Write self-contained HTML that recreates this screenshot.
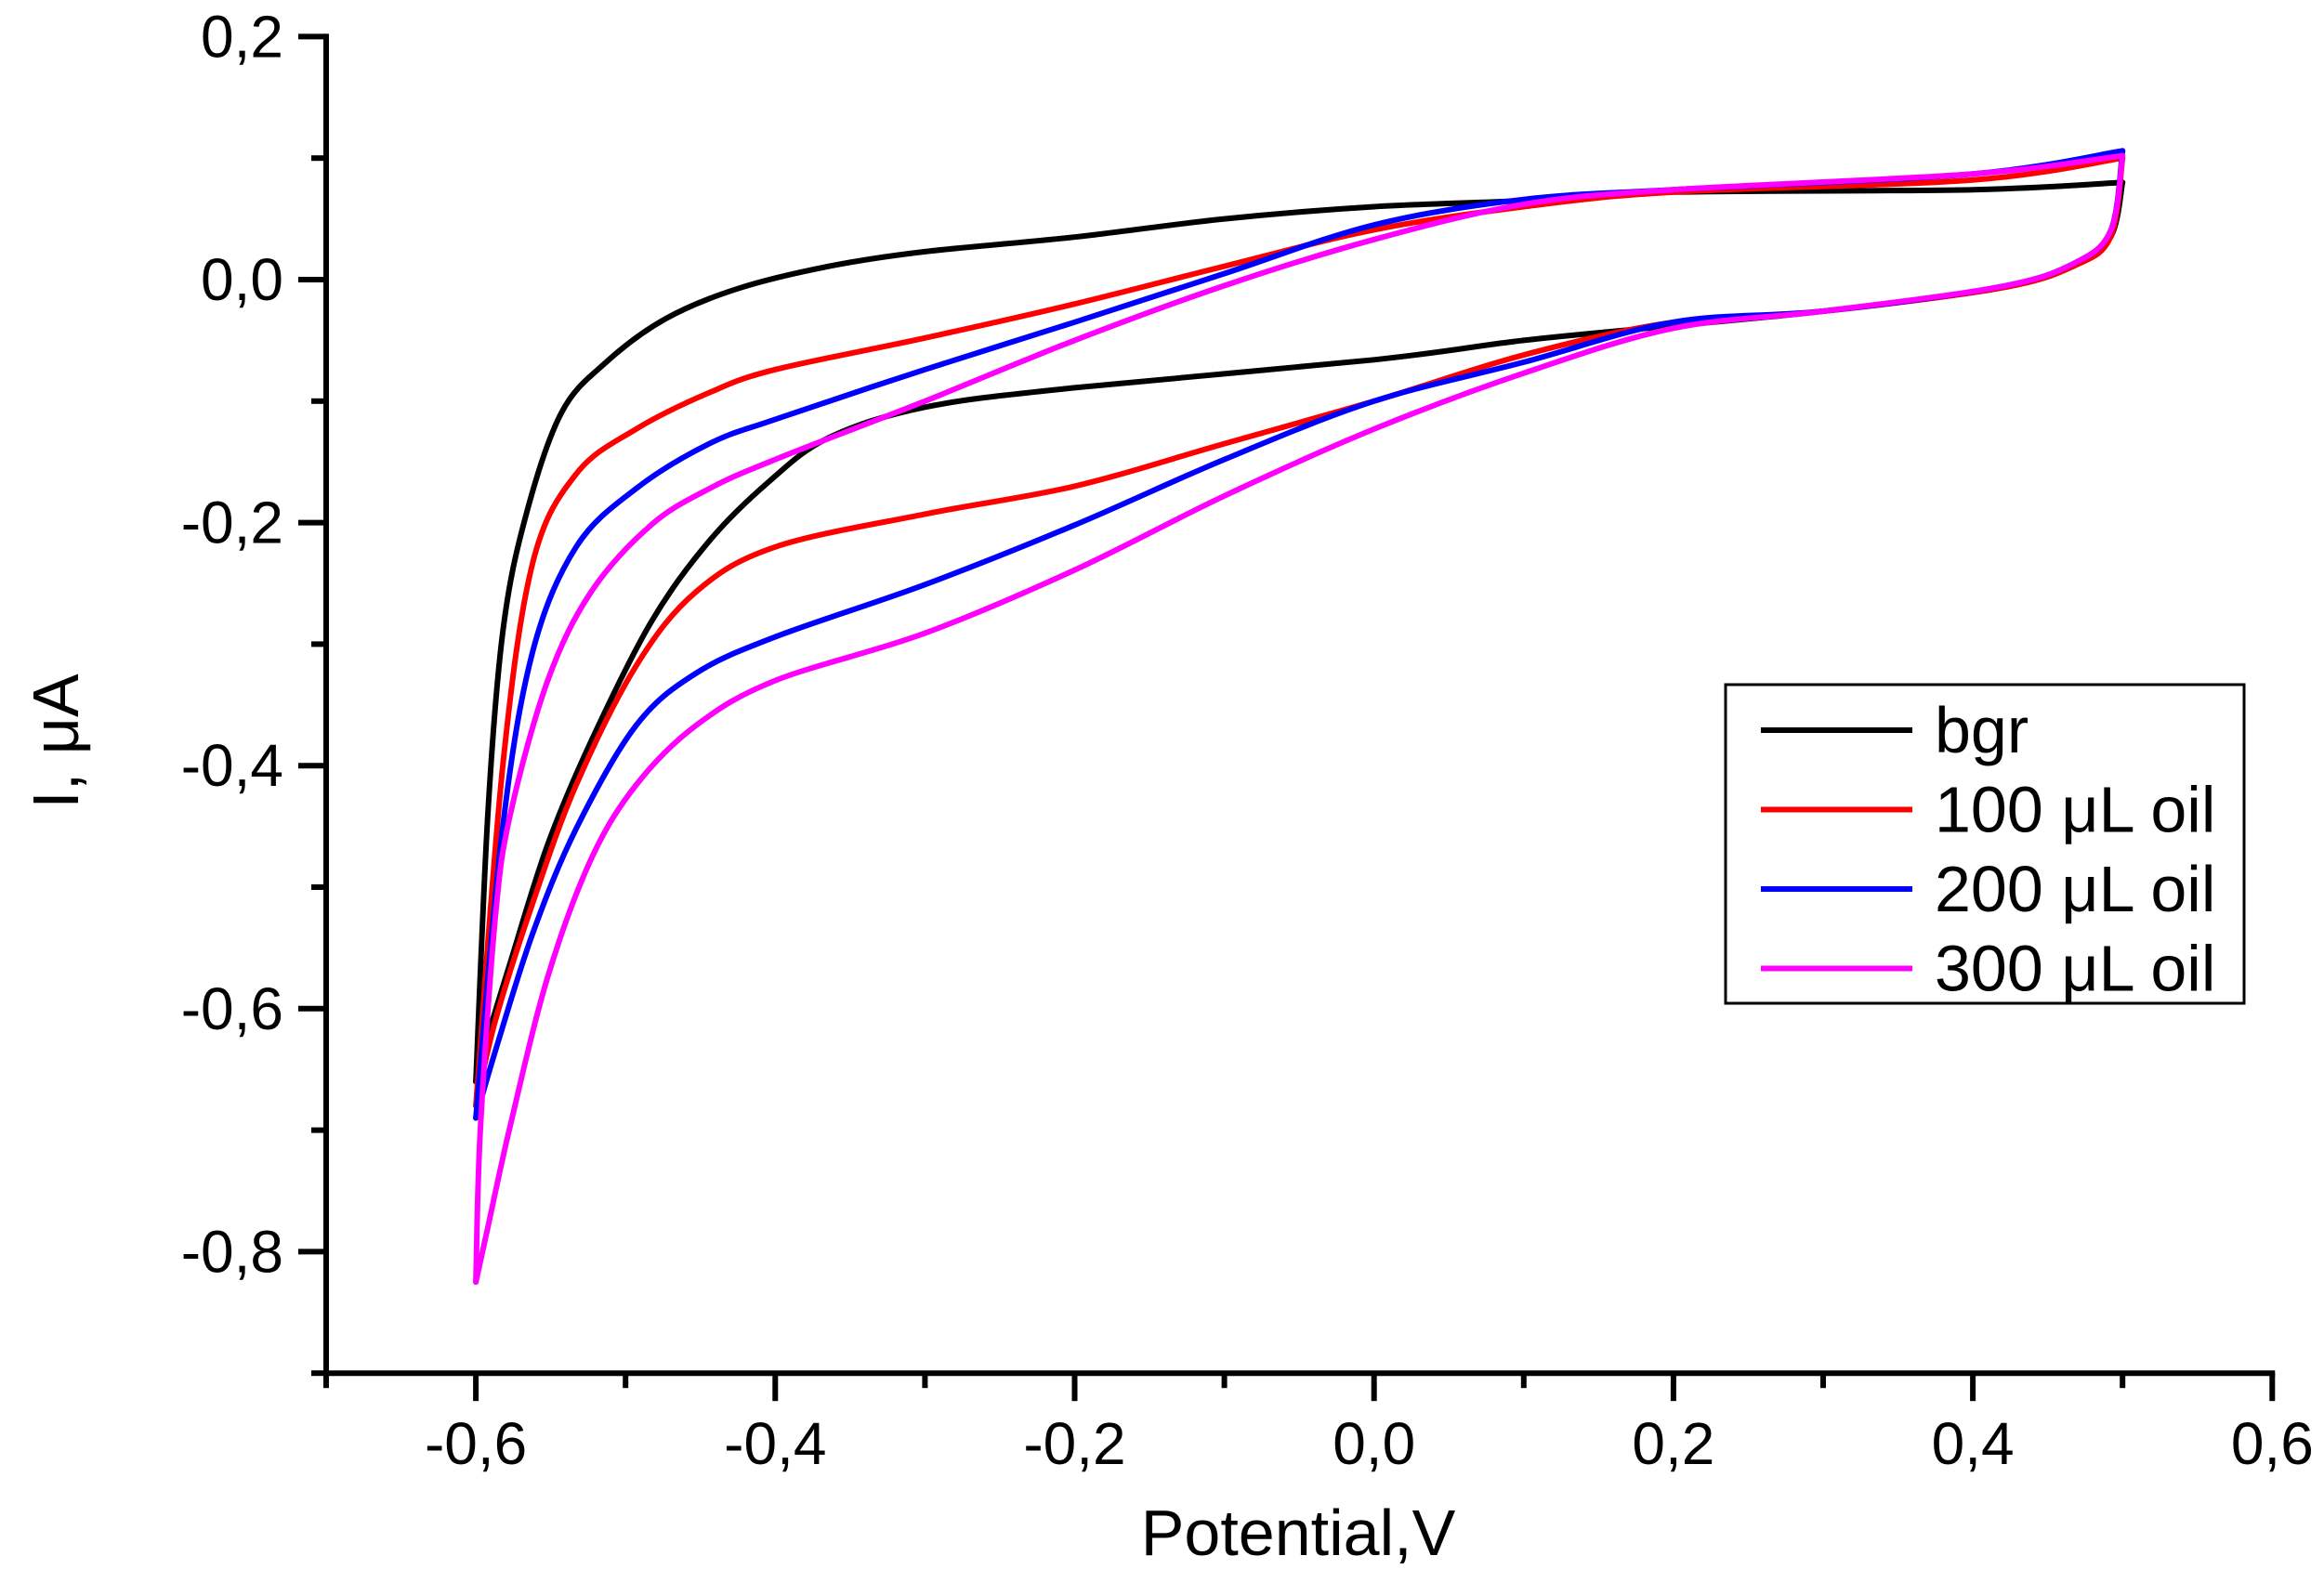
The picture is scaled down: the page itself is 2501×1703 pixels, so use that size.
<!DOCTYPE html>
<html><head><meta charset="utf-8"><style>
html,body{margin:0;padding:0;background:#fff}
svg{display:block}
text{font-family:"Liberation Sans",Arial,sans-serif;fill:#000}
</style></head><body>
<svg id="chart" width="2501" height="1703" viewBox="0 0 2501 1703" xmlns="http://www.w3.org/2000/svg">
<g id="axes"></g>
<g id="series"></g>
<text x="1397" y="1674" font-size="70" text-anchor="middle">Potential,V</text>
<text transform="translate(84,798) rotate(-90)" font-size="70" text-anchor="middle">I, μA</text>
<g>
<rect x="1857" y="737" width="558" height="343" fill="#fff" stroke="#000" stroke-width="3"/>
<g id="legend-entries"></g>
</g>
</svg>
<script>
const xTicks=[-0.6,-0.4,-0.2,0.0,0.2,0.4,0.6];
const xTickLabels=["-0,6","-0,4","-0,2","0,0","0,2","0,4","0,6"];
const yTicks=[0.2,0.0,-0.2,-0.4,-0.6,-0.8];
const yTickLabels=["0,2","0,0","-0,2","-0,4","-0,6","-0,8"];
const seriesNames=["bgr","100 μL oil","200 μL oil","300 μL oil"];
const seriesColors=["#000000","#ff0000","#0000ff","#ff00ff"];
const bgrUpX=[-0.6,-0.592,-0.582,-0.567,-0.543,-0.513,-0.473,-0.424,-0.364,-0.3,-0.2,-0.1,0,0.1,0.2,0.4,0.5];
const bgrUpY=[-0.66,-0.44,-0.29,-0.196,-0.11,-0.068,-0.032,-0.007,0.011,0.023,0.035,0.05,0.06,0.065,0.072,0.074,0.08];
const bgrDnX=[0.5,0.492,0.467,0.418,0.3,0.2,0.1,0,-0.2,-0.3,-0.364,-0.404,-0.444,-0.483,-0.523,-0.552,-0.577,-0.595,-0.6];
const bgrDnY=[0.08,0.035,0.011,-0.007,-0.026,-0.038,-0.05,-0.066,-0.089,-0.105,-0.13,-0.166,-0.215,-0.282,-0.38,-0.465,-0.562,-0.635,-0.66];
const s100UpX=[-0.6,-0.582,-0.562,-0.533,-0.493,-0.444,-0.4,-0.3,-0.2,-0.1,0,0.1,0.2,0.4,0.5];
const s100UpY=[-0.68,-0.40,-0.233,-0.16,-0.123,-0.093,-0.074,-0.048,-0.02,0.011,0.041,0.06,0.072,0.082,0.1];
const s100DnX=[0.5,0.492,0.467,0.418,0.3,0.2,0.1,0,-0.1,-0.2,-0.3,-0.4,-0.453,-0.493,-0.533,-0.562,-0.587,-0.6];
const s100DnY=[0.1,0.035,0.011,-0.007,-0.026,-0.035,-0.062,-0.1,-0.135,-0.17,-0.193,-0.22,-0.257,-0.318,-0.416,-0.513,-0.61,-0.68];
const s200UpX=[-0.6,-0.582,-0.562,-0.533,-0.493,-0.444,-0.4,-0.3,-0.2,-0.1,0,0.1,0.2,0.4,0.5];
const s200UpY=[-0.69,-0.45,-0.306,-0.22,-0.172,-0.135,-0.115,-0.074,-0.035,0.005,0.045,0.066,0.074,0.087,0.106];
const s200DnX=[0.5,0.492,0.467,0.418,0.3,0.2,0.1,0,-0.1,-0.2,-0.3,-0.4,-0.453,-0.493,-0.533,-0.562,-0.587,-0.6];
const s200DnY=[0.106,0.04,0.013,-0.006,-0.026,-0.035,-0.068,-0.1,-0.148,-0.202,-0.251,-0.294,-0.324,-0.367,-0.452,-0.538,-0.635,-0.69];
const s300UpX=[-0.6,-0.597,-0.587,-0.577,-0.552,-0.523,-0.483,-0.444,-0.4,-0.3,-0.2,-0.1,0,0.1,0.2,0.4,0.5];
const s300UpY=[-0.825,-0.70,-0.525,-0.44,-0.33,-0.257,-0.202,-0.172,-0.148,-0.1,-0.05,-0.005,0.033,0.062,0.074,0.087,0.102];
const s300DnX=[0.5,0.492,0.467,0.418,0.3,0.2,0.1,0,-0.1,-0.2,-0.3,-0.4,-0.453,-0.493,-0.523,-0.552,-0.577,-0.592,-0.6];
const s300DnY=[0.102,0.04,0.013,-0.006,-0.026,-0.04,-0.077,-0.123,-0.178,-0.239,-0.291,-0.33,-0.367,-0.416,-0.477,-0.574,-0.696,-0.78,-0.825];

const NS="http://www.w3.org/2000/svg";
function xs(v){return 351+(v+0.7)*1611;}
function ys(v){return 301-v*1308;}
function mk(tag,attrs,parent){const e=document.createElementNS(NS,tag);for(const k in attrs)e.setAttribute(k,attrs[k]);parent.appendChild(e);return e;}
const axes=document.getElementById('axes');
const xMin=-0.7,xMax=0.6,yMin=-0.9,yMax=0.2;
let ax=mk('line',{x1:xs(xMin)-3,y1:ys(yMin),x2:xs(xMax)+3,y2:ys(yMin),stroke:'#000','stroke-width':6},axes);


let ay=mk('line',{x1:xs(xMin),y1:ys(yMin)+3,x2:xs(xMin),y2:ys(yMax)-3,stroke:'#000','stroke-width':6},axes);


for(let i=0;i<=13;i++){const v=xMin+i*0.1;const major=(i%2===1);
 const t=mk('line',{x1:xs(v),y1:ys(yMin),x2:xs(v),y2:ys(yMin)+(major?30:16),stroke:'#000','stroke-width':6},axes);
 
 }
xTicks.forEach((v,i)=>{const t=mk('text',{x:xs(v),y:1576,'font-size':64,'text-anchor':'middle'},axes);t.textContent=xTickLabels[i];
 
 });
for(let i=0;i<=11;i++){const v=yMax-i*0.1;const major=(i%2===0&&i<=10);
 const t=mk('line',{x1:xs(xMin),y1:ys(v),x2:xs(xMin)-(major?30:16),y2:ys(v),stroke:'#000','stroke-width':6},axes);
 
 }
yTicks.forEach((v,i)=>{const t=mk('text',{x:xs(xMin)-46,y:ys(v)+22,'font-size':64,'text-anchor':'end'},axes);t.textContent=yTickLabels[i];
 
 });

function smoothPath(pts){let d='M'+pts[0][0].toFixed(1)+','+pts[0][1].toFixed(1);
 for(let i=0;i<pts.length-1;i++){const p0=pts[Math.max(0,i-1)],p1=pts[i],p2=pts[i+1],p3=pts[Math.min(pts.length-1,i+2)];
  const c1=[p1[0]+(p2[0]-p0[0])/6,p1[1]+(p2[1]-p0[1])/6],c2=[p2[0]-(p3[0]-p1[0])/6,p2[1]-(p3[1]-p1[1])/6];
  d+=' C'+c1[0].toFixed(1)+','+c1[1].toFixed(1)+' '+c2[0].toFixed(1)+','+c2[1].toFixed(1)+' '+p2[0].toFixed(1)+','+p2[1].toFixed(1);}
 return d;}
const sg=document.getElementById('series');
const all=[[bgrUpX,bgrUpY,bgrDnX,bgrDnY],[s100UpX,s100UpY,s100DnX,s100DnY],[s200UpX,s200UpY,s200DnX,s200DnY],[s300UpX,s300UpY,s300DnX,s300DnY]];
all.forEach((s,k)=>{
 const up=s[0].map((x,i)=>[xs(x),ys(s[1][i])]);
 const dn=s[2].map((x,i)=>[xs(x),ys(s[3][i])]);
 const p1=mk('path',{d:smoothPath(up),fill:'none',stroke:seriesColors[k],'stroke-width':6,'stroke-linejoin':'round','stroke-linecap':'round'},sg);
 
 
 const p2=mk('path',{d:smoothPath(dn),fill:'none',stroke:seriesColors[k],'stroke-width':6,'stroke-linejoin':'round','stroke-linecap':'round'},sg);
 
 
});
const lg=document.getElementById('legend-entries');
seriesNames.forEach((n,i)=>{const y=786+i*85.5;
 const l=mk('line',{x1:1895,y1:y,x2:2058,y2:y,stroke:seriesColors[i],'stroke-width':6},lg);
 
 
 const t=mk('text',{x:2082,y:y+24,'font-size':70},lg);t.textContent=n;
 
 });
</script>
</body></html>
